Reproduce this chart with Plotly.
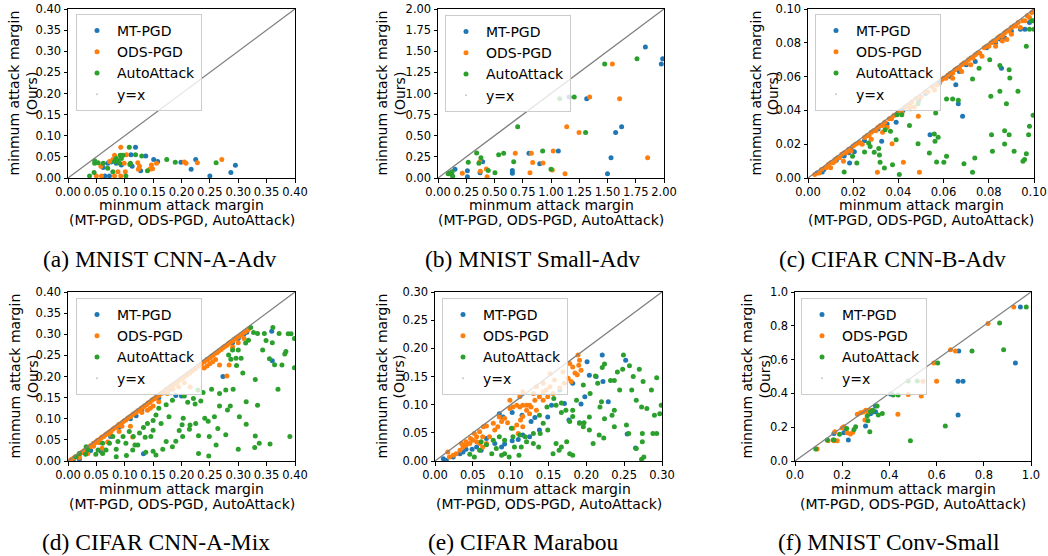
import plotly.graph_objects as go

# Figure fills the whole 1048x556 window; the page body margin is removed
# by a small post-script so that figure pixels equal window pixels.
W, H = 1048, 556

def px(x):
    return x / W

def py(y):
    return 1 - y / H

BLUE, ORANGE, GREEN = "#1f77b4", "#ff7f0e", "#2ca02c"
SERIES = ["MT-PGD", "ODS-PGD", "AutoAttack"]
XTITLE1 = "minmum attack margin"
XTITLE2 = "(MT-PGD, ODS-PGD, AutoAttack)"
YTITLE1 = "minmum attack margin"
YTITLE2 = "(Ours)"

# ---------------- (a) MNIST CNN-A-Adv ----------------
a_ticks = [0.0, 0.05, 0.10, 0.15, 0.20, 0.25, 0.30, 0.35, 0.40]
a_mt = [(0.119,0.073),(0.111,0.055),(0.137,0.052),(0.151,0.044),(0.158,0.039),(0.199,0.037),
        (0.225,0.044),(0.217,0.021),(0.250,0.005),(0.287,0.013),(0.295,0.030),(0.128,0.017),
        (0.073,0.005),(0.065,0.005),(0.070,0.035),(0.076,0.038),(0.094,0.031),(0.113,0.028),
        (0.062,0.025),(0.085,0.035)]
a_ods = [(0.093,0.073),(0.082,0.054),(0.103,0.055),(0.205,0.038),(0.208,0.035),(0.228,0.036),
         (0.271,0.044),(0.156,0.035),(0.147,0.031),(0.144,0.021),(0.149,0.022),(0.123,0.036),
         (0.126,0.028),(0.124,0.021),(0.050,0.005),(0.059,0.005),(0.082,0.005),(0.093,0.005),
         (0.058,0.028),(0.088,0.015),(0.101,0.015),(0.099,0.035),(0.073,0.039),(0.079,0.044)]
a_aa = [(0.108,0.073),(0.092,0.054),(0.097,0.054),(0.119,0.055),(0.130,0.052),(0.174,0.044),
        (0.189,0.037),(0.261,0.036),(0.140,0.017),(0.047,0.035),(0.046,0.013),(0.038,0.005),
        (0.102,0.005),(0.079,0.015),(0.053,0.036),(0.062,0.035),(0.082,0.039),(0.087,0.041),
        (0.091,0.035),(0.109,0.032),(0.110,0.035),(0.070,0.023),(0.047,0.041),(0.085,0.046),
        (0.094,0.046)]

# ---------------- (b) MNIST Small-Adv ----------------
b_ticks = [0.0, 0.25, 0.50, 0.75, 1.00, 1.25, 1.50, 1.75, 2.00]
b_mt = [(1.835,1.55),(1.988,1.41),(1.976,1.35),(1.316,0.939),(1.625,0.607),(1.572,0.537),
        (1.531,0.241),(1.50,0.05),(1.065,0.32),(0.805,0.292),(0.90,0.17),(0.658,0.09),
        (0.658,0.055),(0.395,0.193),(0.372,0.063),(0.26,0.087),(0.26,0.016),(0.15,0.103),
        (1.16,0.96)]
b_ods = [(1.543,1.35),(1.342,0.96),(1.607,0.939),(1.139,0.607),(1.248,0.537),(1.855,0.241),
         (1.124,0.05),(1.02,0.32),(0.826,0.292),(0.838,0.182),(0.929,0.178),(0.814,0.063),
         (0.684,0.292),(0.369,0.193),(0.375,0.08),(0.434,0.016),(0.428,0.107),(0.215,0.055),
         (1.012,0.095)]
b_aa = [(1.761,1.41),(1.475,1.35),(1.206,0.96),(1.077,0.939),(0.705,0.607),(1.306,0.537),
        (0.926,0.32),(0.581,0.292),(0.537,0.276),(0.67,0.193),(0.342,0.296),(0.38,0.241),
        (0.362,0.174),(0.268,0.185),(0.445,0.09),(0.504,0.063),(1.0,0.105),(0.10,0.06),
        (0.125,0.075),(0.09,0.05),(0.13,0.02),(0.12,0.045)]

# ---------------- (c) CIFAR CNN-B-Adv ----------------
c_ticks = [0.0, 0.02, 0.04, 0.06, 0.08, 0.10]
c_mt = [(0.004,0.003),(0.007,0.005),(0.012,0.010),(0.016,0.013),(0.019,0.017),(0.025,0.022),
        (0.031,0.029),(0.035,0.032),(0.039,0.033),(0.042,0.040),(0.049,0.046),(0.052,0.050),
        (0.058,0.056),(0.063,0.060),(0.067,0.063),(0.070,0.067),(0.074,0.069),(0.079,0.077),
        (0.083,0.080),(0.087,0.083),(0.090,0.087),(0.094,0.088),(0.098,0.092),(0.096,0.088),
        (0.054,0.0256),(0.0684,0.0365),(0.0665,0.044),(0.0654,0.0552),(0.0856,0.065),
        (0.0849,0.0822),(0.0326,0.0217),(0.0184,0.0089),(0.0125,0.0105),(0.0063,0.0035),
        (0.100,0.093),(0.018,0.015),(0.0205,0.0155)]
c_ods = [(0.003,0.002),(0.005,0.003),(0.006,0.005),(0.008,0.006),(0.009,0.008),(0.010,0.009),
         (0.011,0.009),(0.012,0.011),(0.013,0.012),(0.014,0.012),(0.015,0.014),(0.016,0.015),
         (0.017,0.015),(0.018,0.017),(0.020,0.019),(0.021,0.020),(0.023,0.021),(0.025,0.024),
         (0.026,0.025),(0.027,0.025),(0.028,0.027),(0.029,0.028),(0.030,0.028),(0.031,0.030),
         (0.032,0.031),(0.033,0.031),(0.034,0.033),(0.036,0.035),(0.037,0.035),(0.038,0.037),
         (0.040,0.039),(0.041,0.039),(0.043,0.042),(0.044,0.043),(0.045,0.043),(0.046,0.045),
         (0.048,0.047),(0.050,0.048),(0.052,0.051),(0.053,0.051),(0.055,0.054),(0.057,0.055),
         (0.059,0.058),(0.060,0.059),(0.061,0.059),(0.062,0.061),(0.063,0.062),(0.064,0.062),
         (0.065,0.064),(0.066,0.065),(0.067,0.065),(0.068,0.067),(0.069,0.068),(0.070,0.068),
         (0.071,0.070),(0.072,0.071),(0.073,0.071),(0.074,0.073),(0.075,0.074),(0.076,0.074),
         (0.078,0.077),(0.079,0.078),(0.080,0.078),(0.081,0.080),(0.082,0.081),(0.083,0.081),
         (0.084,0.083),(0.085,0.084),(0.086,0.084),(0.087,0.086),(0.088,0.087),(0.089,0.087),
         (0.090,0.089),(0.091,0.090),(0.092,0.090),(0.093,0.092),(0.095,0.093),(0.097,0.096),
         (0.099,0.098),(0.100,0.099),
         (0.0493,0.0034),(0.0422,0.0093),(0.0372,0.0203),(0.0307,0.0034),(0.0488,0.0365),
         (0.0415,0.0385),(0.0224,0.0207),(0.0157,0.0099),(0.012,0.010),(0.010,0.006),
         (0.019,0.016),(0.024,0.020),(0.028,0.023),(0.033,0.027),(0.035,0.030),(0.045,0.041),
         (0.047,0.042),(0.056,0.052),(0.064,0.059),(0.068,0.063),(0.072,0.067),(0.077,0.072),
         (0.083,0.078),(0.086,0.081),(0.088,0.082),(0.090,0.085),(0.094,0.089),(0.096,0.093),
         (0.098,0.095)]
c_aa = [(0.0996,0.0371),(0.098,0.0306),(0.0976,0.0256),(0.0966,0.0144),(0.0951,0.0099),
        (0.0958,0.011),(0.0966,0.0779),(0.098,0.088),(0.100,0.088),(0.099,0.093),(0.0929,0.0513),
        (0.0878,0.044),(0.0893,0.0592),(0.089,0.064),(0.0912,0.0158),(0.087,0.028),(0.087,0.0201),
        (0.089,0.0256),(0.0849,0.0513),(0.0816,0.0158),(0.0812,0.0256),(0.0809,0.0483),
        (0.0849,0.0665),(0.0804,0.070),(0.0757,0.065),(0.0728,0.0586),(0.0738,0.0118),
        (0.0728,0.0034),(0.069,0.0085),(0.0665,0.046),(0.064,0.0467),(0.0613,0.0467),
        (0.0613,0.0128),(0.0601,0.0093),(0.0569,0.0095),(0.0565,0.0385),(0.0576,0.0241),
        (0.0559,0.026),(0.0562,0.0217),(0.0537,0.0148),(0.0487,0.0203),(0.0487,0.044),
        (0.0449,0.031),(0.0404,0.002),(0.0374,0.0079),(0.0338,0.0059),(0.0319,0.0093),
        (0.0316,0.0136),(0.0293,0.0152),(0.0313,0.0174),(0.0275,0.0187),(0.0268,0.0207),
        (0.025,0.0154),(0.0216,0.0089),(0.0197,0.0128),(0.016,0.0036),(0.039,0.0227),
        (0.0365,0.0276),(0.0341,0.0286),(0.0394,0.0375),(0.0415,0.0375)]

# ---------------- (d) CIFAR CNN-A-Mix ----------------
d_ticks = [0.0, 0.05, 0.10, 0.15, 0.20, 0.25, 0.30, 0.35, 0.40]
d_mt = [(0.359,0.307),(0.36,0.237),(0.273,0.2),(0.2,0.154),(0.133,0.017),(0.058,0.023),
        (0.04,0.025),(0.025,0.02),(0.01,0.005),(0.02,0.004),(0.09,0.08),(0.11,0.10),
        (0.16,0.15),(0.18,0.17),(0.29,0.28),(0.30,0.29),(0.31,0.30),(0.13,0.12),(0.07,0.065),
        (0.245,0.24),(0.315,0.305),(0.12,0.107),(0.19,0.155),(0.075,0.058)]
d_ods = [(0.005,0.003),(0.010,0.007),(0.013,0.010),(0.016,0.012),(0.020,0.015),(0.022,0.019),
         (0.025,0.020),(0.028,0.024),(0.030,0.025),(0.033,0.029),(0.035,0.030),(0.038,0.034),
         (0.040,0.036),(0.043,0.038),(0.045,0.042),(0.048,0.043),(0.050,0.046),(0.052,0.049),
         (0.055,0.050),(0.058,0.054),(0.060,0.057),(0.063,0.058),(0.066,0.062),(0.068,0.064),
         (0.071,0.067),(0.074,0.070),(0.076,0.071),(0.079,0.075),(0.082,0.078),(0.085,0.080),
         (0.088,0.084),(0.090,0.087),(0.093,0.088),(0.096,0.092),(0.099,0.095),(0.102,0.097),
         (0.105,0.101),(0.108,0.104),(0.111,0.106),(0.114,0.110),(0.117,0.113),(0.120,0.115),
         (0.123,0.119),(0.126,0.121),(0.129,0.125),(0.132,0.127),(0.135,0.131),(0.138,0.133),
         (0.141,0.137),(0.144,0.139),(0.147,0.143),(0.150,0.146),(0.153,0.148),(0.156,0.152),
         (0.160,0.155),(0.163,0.159),(0.166,0.161),(0.170,0.165),(0.173,0.169),(0.176,0.171),
         (0.180,0.176),(0.184,0.179),(0.188,0.183),(0.192,0.186),(0.196,0.191),(0.200,0.195),
         (0.205,0.199),(0.210,0.204),(0.215,0.209),(0.220,0.214),(0.225,0.219),(0.230,0.224),
         (0.235,0.229),(0.240,0.235),(0.245,0.239),(0.250,0.244),(0.253,0.248),(0.256,0.251),
         (0.260,0.255),(0.263,0.257),(0.266,0.261),(0.270,0.264),(0.273,0.268),(0.276,0.271),
         (0.280,0.274),(0.283,0.278),(0.286,0.281),(0.290,0.284),(0.293,0.288),(0.296,0.291),
         (0.300,0.294),(0.303,0.297),(0.306,0.300),(0.309,0.303),(0.312,0.306),(0.315,0.309),
         (0.318,0.312),
         (0.045,0.035),(0.055,0.043),(0.06,0.030),(0.075,0.062),(0.095,0.082),(0.11,0.082),
         (0.114,0.057),(0.13,0.115),(0.14,0.12),(0.145,0.125),(0.15,0.13),(0.16,0.14),
         (0.175,0.16),(0.185,0.17),(0.24,0.22),(0.245,0.225),(0.25,0.23),(0.255,0.235),
         (0.26,0.24),(0.267,0.227),(0.284,0.227),(0.28,0.201),(0.29,0.27),(0.30,0.28),
         (0.31,0.29),(0.195,0.175),(0.205,0.185),(0.215,0.175),(0.02,0.008),(0.035,0.018),
         (0.07,0.045),(0.09,0.07)]
d_aa = [(0.322,0.316),(0.361,0.316),(0.388,0.301),(0.393,0.301),(0.399,0.290),(0.399,0.221),
        (0.382,0.253),(0.349,0.285),(0.360,0.280),(0.355,0.242),(0.364,0.228),(0.377,0.227),
        (0.330,0.193),(0.370,0.170),(0.314,0.140),(0.334,0.132),(0.314,0.087),(0.330,0.059),
        (0.329,0.032),(0.356,0.040),(0.391,0.058),(0.300,0.028),(0.248,0.012),(0.230,0.018),
        (0.264,0.077),(0.247,0.094),(0.241,0.101),(0.278,0.062),(0.230,0.060),(0.215,0.085),
        (0.214,0.075),(0.196,0.072),(0.201,0.086),(0.190,0.047),(0.173,0.046),(0.167,0.028),
        (0.150,0.023),(0.137,0.021),(0.103,0.013),(0.085,0.028),(0.061,0.018),(0.035,0.026),
        (0.278,0.168),(0.291,0.170),(0.286,0.130),(0.267,0.130),(0.281,0.121),(0.267,0.160),
        (0.234,0.142),(0.253,0.170),(0.238,0.162),(0.224,0.135),(0.221,0.148),(0.229,0.168),
        (0.211,0.139),(0.205,0.154),(0.184,0.144),(0.173,0.133),(0.160,0.125),(0.155,0.109),
        (0.150,0.096),(0.164,0.089),(0.140,0.089),(0.150,0.073),(0.133,0.079),(0.136,0.056),
        (0.126,0.066),(0.115,0.058),(0.118,0.038),(0.102,0.042),(0.097,0.058),(0.088,0.046),
        (0.079,0.058),(0.073,0.042),(0.061,0.042),(0.053,0.026),(0.031,0.016),(0.049,0.016),
        (0.123,0.038),(0.203,0.101),(0.283,0.251),(0.287,0.241),(0.296,0.243),(0.305,0.243),
        (0.300,0.263),(0.290,0.263),(0.313,0.279),(0.327,0.304),(0.334,0.302),(0.346,0.302),
        (0.318,0.286),(0.297,0.226),(0.343,0.263),(0.372,0.302),(0.384,0.259),(0.308,0.208),
        (0.258,0.105),(0.302,0.105),(0.337,0.042),(0.261,0.038),(0.202,0.058),(0.184,0.034),
        (0.155,0.014),(0.085,0.010),(0.114,0.026),(0.014,0.010),(0.020,0.018),(0.032,0.034),
        (0.067,0.026),(0.178,0.105),(0.225,0.089),(0.249,0.058),(0.146,0.058),(0.108,0.070)]

# ---------------- (e) CIFAR Marabou ----------------
e_ticks = [0.0, 0.05, 0.10, 0.15, 0.20, 0.25, 0.30]
e_mt = [(0.221,0.188),(0.252,0.179),(0.201,0.176),(0.204,0.152),(0.213,0.150),(0.222,0.141),
        (0.229,0.105),(0.198,0.114),(0.193,0.101),(0.171,0.102),(0.154,0.099),(0.177,0.073),
        (0.191,0.068),(0.149,0.078),(0.132,0.077),(0.125,0.043),(0.116,0.046),(0.110,0.038),
        (0.102,0.036),(0.092,0.030),(0.088,0.025),(0.079,0.031),(0.068,0.040),(0.061,0.019),
        (0.049,0.021),(0.055,0.025),(0.041,0.021),(0.037,0.016),(0.033,0.013),(0.024,0.007),
        (0.011,0.004),(0.015,0.001),(0.254,0.048),(0.265,0.023),(0.090,0.078),(0.085,0.084),
        (0.102,0.086),(0.115,0.081),(0.138,0.055),(0.127,0.070),(0.165,0.126),(0.182,0.138)]
e_ods = [(0.191,0.179),(0.190,0.170),(0.193,0.161),(0.188,0.153),(0.185,0.156),(0.182,0.167),
         (0.189,0.188),(0.165,0.130),(0.152,0.132),(0.147,0.126),(0.143,0.123),(0.138,0.114),
         (0.132,0.108),(0.125,0.099),(0.121,0.099),(0.116,0.099),(0.112,0.096),(0.108,0.099),
         (0.103,0.096),(0.099,0.093),(0.121,0.090),(0.116,0.079),(0.125,0.084),(0.113,0.073),
         (0.108,0.064),(0.116,0.061),(0.103,0.058),(0.110,0.049),(0.096,0.068),(0.092,0.076),
         (0.085,0.078),(0.088,0.070),(0.083,0.061),(0.079,0.055),(0.077,0.067),(0.068,0.062),
         (0.064,0.061),(0.059,0.052),(0.063,0.043),(0.055,0.043),(0.050,0.037),(0.046,0.031),
         (0.041,0.028),(0.037,0.025),(0.033,0.019),(0.028,0.013),(0.024,0.010),(0.019,0.007),
         (0.041,0.034),(0.047,0.040),(0.052,0.049),(0.055,0.034),(0.063,0.025),(0.072,0.043),
         (0.068,0.031),(0.059,0.031),(0.035,0.031),(0.017,0.016),(0.156,0.120),(0.171,0.138),
         (0.176,0.147),(0.180,0.141),(0.158,0.144),(0.143,0.138),(0.134,0.132),(0.130,0.120),
         (0.143,0.108),(0.149,0.114),(0.134,0.090),(0.127,0.096),(0.099,0.108),(0.112,0.114),
         (0.116,0.123),(0.152,0.155),(0.169,0.158),(0.178,0.173)]
e_aa = [(0.249,0.188),(0.257,0.169),(0.270,0.163),(0.241,0.158),(0.248,0.163),(0.224,0.172),
        (0.221,0.166),(0.212,0.151),(0.215,0.138),(0.232,0.143),(0.237,0.143),(0.244,0.126),
        (0.260,0.126),(0.275,0.141),(0.293,0.148),(0.299,0.099),(0.297,0.084),(0.290,0.081),
        (0.280,0.093),(0.266,0.108),(0.273,0.096),(0.274,0.049),(0.288,0.049),(0.293,0.049),
        (0.274,0.034),(0.266,0.022),(0.276,0.007),(0.273,0.003),(0.253,0.064),(0.256,0.049),
        (0.234,0.081),(0.237,0.090),(0.220,0.105),(0.218,0.096),(0.224,0.075),(0.217,0.046),
        (0.223,0.041),(0.204,0.055),(0.197,0.068),(0.191,0.067),(0.196,0.061),(0.182,0.079),
        (0.178,0.070),(0.182,0.090),(0.173,0.090),(0.167,0.103),(0.157,0.111),(0.160,0.099),
        (0.167,0.086),(0.148,0.096),(0.138,0.081),(0.149,0.055),(0.139,0.049),(0.130,0.049),
        (0.130,0.031),(0.137,0.025),(0.160,0.031),(0.164,0.019),(0.156,0.013),(0.167,0.025),
        (0.174,0.034),(0.178,0.013),(0.182,0.010),(0.209,0.031),(0.121,0.034),(0.114,0.025),
        (0.105,0.025),(0.103,0.043),(0.101,0.058),(0.092,0.013),(0.088,0.010),(0.081,0.022),
        (0.075,0.013),(0.068,0.029),(0.059,0.019),(0.052,0.007),(0.046,0.012),(0.061,0.034),
        (0.077,0.037),(0.085,0.043),(0.092,0.037),(0.112,0.046),(0.119,0.043),(0.098,0.007),
        (0.111,0.010),(0.196,0.135),(0.187,0.108),(0.205,0.120),(0.286,0.126),(0.262,0.150),
        (0.237,0.061),(0.204,0.078),(0.143,0.067)]

# ---------------- (f) MNIST Conv-Small ----------------
f_ticks = [0.0, 0.2, 0.4, 0.6, 0.8, 1.0]
f_mt = [(0.955,0.911),(0.934,0.58),(0.694,0.651),(0.691,0.472),(0.712,0.472),(0.691,0.272),
        (0.405,0.396),(0.341,0.291),(0.299,0.207),(0.214,0.193),(0.226,0.124),(0.207,0.167),
        (0.165,0.163),(0.162,0.124),(0.341,0.325),(0.33,0.29),(0.32,0.28)]
f_ods = [(0.927,0.911),(0.818,0.813),(0.659,0.659),(0.68,0.651),(0.588,0.58),(0.6,0.472),
         (0.535,0.384),(0.48,0.394),(0.436,0.277),(0.542,0.472),(0.296,0.242),(0.264,0.277),
         (0.278,0.285),(0.29,0.29),(0.30,0.30),(0.221,0.167),(0.235,0.16),(0.207,0.203),
         (0.179,0.12),(0.165,0.12),(0.14,0.12),(0.094,0.071),(0.245,0.17),(0.20,0.195),
         (0.169,0.173),(0.31,0.29),(0.32,0.30)]
f_aa = [(0.98,0.911),(0.867,0.817),(0.884,0.659),(0.75,0.651),(0.605,0.58),(0.416,0.39),
        (0.437,0.39),(0.518,0.474),(0.48,0.474),(0.348,0.325),(0.353,0.272),(0.37,0.281),
        (0.306,0.266),(0.309,0.238),(0.317,0.173),(0.32,0.291),(0.637,0.207),(0.489,0.12),
        (0.219,0.193),(0.25,0.187),(0.189,0.159),(0.165,0.124),(0.137,0.124),(0.088,0.071),
        (0.257,0.203),(0.33,0.30)]

# layout geometry (window pixels)
panels = [
    dict(series=(a_mt, a_ods, a_aa), lim=0.4, ticks=a_ticks, fmt=".2f", cap="(a) MNIST CNN-A-Adv",
         box=(68, 295, 9, 178), leg=(76, 14), ytl=(14, 32), capx=159, capy=259, xt=(205, 220)),
    dict(series=(b_mt, b_ods, b_aa), lim=2.0, ticks=b_ticks, fmt=".2f", cap="(b) MNIST Small-Adv",
         box=(438, 664, 9, 178), leg=(445, 15), ytl=(382, 400), capx=532, capy=259, xt=(205, 220)),
    dict(series=(c_mt, c_ods, c_aa), lim=0.1, ticks=c_ticks, fmt=".2f", cap="(c) CIFAR CNN-B-Adv",
         box=(808, 1034, 9, 178), leg=(815, 14), ytl=(756, 773), capx=892, capy=259, xt=(205, 220)),
    dict(series=(d_mt, d_ods, d_aa), lim=0.4, ticks=d_ticks, fmt=".2f", cap="(d) CIFAR CNN-A-Mix",
         box=(68, 295, 292, 461), leg=(76, 298), ytl=(14, 32), capx=156, capy=542, xt=(489, 504)),
    dict(series=(e_mt, e_ods, e_aa), lim=0.3, ticks=e_ticks, fmt=".2f", cap="(e) CIFAR Marabou",
         box=(435, 662, 292, 461), leg=(442, 298), ytl=(381, 398), capx=523, capy=542, xt=(489, 504)),
    dict(series=(f_mt, f_ods, f_aa), lim=1.0, ticks=f_ticks, fmt=".1f", cap="(f) MNIST Conv-Small",
         box=(795, 1031, 292, 461), leg=(801, 298), ytl=(746, 764), capx=889, capy=542, xt=(489, 504)),
]

fig = go.Figure()
layout = dict(width=W, height=H, margin=dict(l=0, r=0, t=0, b=0, autoexpand=False), autosize=False,
              paper_bgcolor="white", plot_bgcolor="white",
              font=dict(family="DejaVu Sans", color="black"), annotations=[])

for i, p in enumerate(panels):
    k = "" if i == 0 else str(i + 1)
    xa, ya, lg = "x" + k, "y" + k, "legend" + k
    for name, col, pts in zip(SERIES, (BLUE, ORANGE, GREEN), p["series"]):
        fig.add_trace(go.Scatter(x=[q[0] for q in pts], y=[q[1] for q in pts], mode="markers",
                                 name=name, marker=dict(color=col, size=5), xaxis=xa, yaxis=ya,
                                 legend=lg))
    lim = p["lim"]
    fig.add_trace(go.Scatter(x=[0, lim], y=[0, lim], mode="lines", line=dict(color="#808080", width=1.3),
                             showlegend=False, xaxis=xa, yaxis=ya, hoverinfo="skip"))
    fig.add_trace(go.Scatter(x=[None], y=[None], mode="markers", name="y=x",
                             marker=dict(color="#c8c8c8", size=2), xaxis=xa, yaxis=ya, legend=lg))
    x0, x1, y0, y1 = p["box"]
    common = dict(range=[0, lim], tickvals=p["ticks"], tickformat=p["fmt"], ticks="outside",
                  ticklen=3.5, tickwidth=1, tickcolor="black", showline=True, linecolor="black",
                  linewidth=1, mirror=True, showgrid=False, zeroline=False, tickangle=0,
                  automargin=False, ticklabeloverflow="allow",
                  tickfont=dict(size=11.5, color="black", family="DejaVu Sans"))
    layout["xaxis" + k] = dict(domain=[px(x0), px(x1)], anchor=ya, **common)
    layout["yaxis" + k] = dict(domain=[py(y1), py(y0)], anchor=xa, **common)
    layout[lg] = dict(x=px(p["leg"][0]), y=py(p["leg"][1]), xanchor="left", yanchor="top",
                      bgcolor="rgba(255,255,255,0.8)", bordercolor="#cccccc", borderwidth=1,
                      font=dict(size=14, color="black", family="DejaVu Sans"))
    cx = (x0 + x1) / 2
    cy = (y0 + y1) / 2
    ann = layout["annotations"]
    ann.append(dict(text=XTITLE1, x=px(cx), y=py(p["xt"][0]), xref="paper", yref="paper",
                    showarrow=False, xanchor="center", yanchor="middle", font=dict(size=14)))
    ann.append(dict(text=XTITLE2, x=px(cx), y=py(p["xt"][1]), xref="paper", yref="paper",
                    showarrow=False, xanchor="center", yanchor="middle", font=dict(size=14)))
    ann.append(dict(text=YTITLE1, x=px(p["ytl"][0]), y=py(cy), xref="paper", yref="paper",
                    showarrow=False, xanchor="center", yanchor="middle", textangle=-90, font=dict(size=14)))
    ann.append(dict(text=YTITLE2, x=px(p["ytl"][1]), y=py(cy), xref="paper", yref="paper",
                    showarrow=False, xanchor="center", yanchor="middle", textangle=-90, font=dict(size=14)))
    ann.append(dict(text=p["cap"], x=px(p["capx"]), y=py(p["capy"]), xref="paper", yref="paper",
                    showarrow=False, xanchor="center", yanchor="middle",
                    font=dict(size=23.5, family="Liberation Serif", color="black")))

fig.update_layout(**layout)
fig.write_html("out.html", config={"displayModeBar": False},
               post_script="document.body.style.margin='0px';document.body.style.overflow='hidden';")
